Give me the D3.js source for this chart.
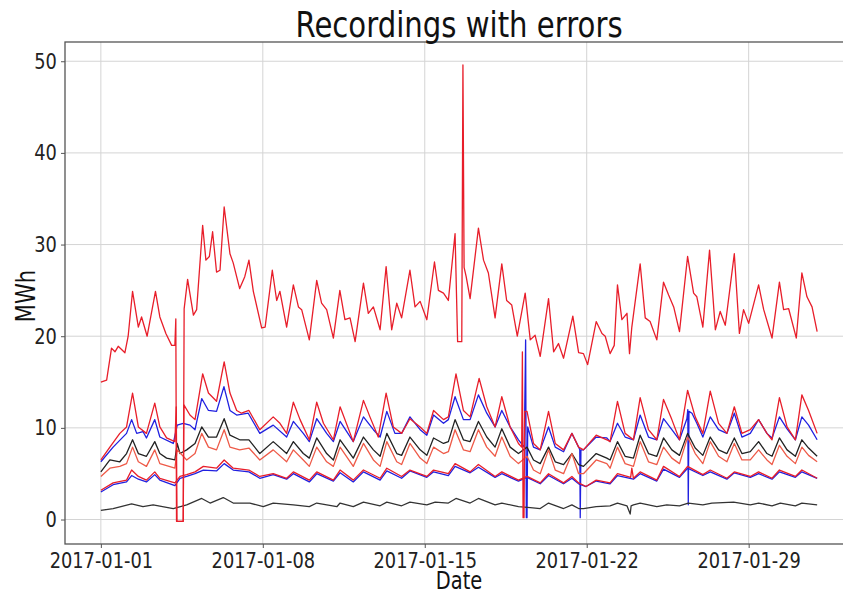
<!DOCTYPE html>
<html>
<head>
<meta charset="utf-8">
<script src="https://cdn.jsdelivr.net/npm/d3@7"></script>
<style>
  body { margin: 0; background: #fff; }
  svg { display: block; font-family: "DejaVu Sans", sans-serif; }
</style>
</head>
<body>
<svg id="chart" width="843" height="595"></svg>
<script>
// series are [day offset from 2017-01-01 00:00, MWh]
var topRed = [[0,15.0],[0.25,15.2],[0.46,18.7],[0.61,18.3],[0.75,18.9],[1.04,18.2],[1.18,20.0],[1.37,24.9],[1.62,21.0],[1.76,22.1],[2.0,20.0],[2.36,24.9],[2.55,22.1],[2.81,20.3],[3.06,19.0],[3.2,19.0],[3.24,21.9],[3.27,-0.2],[3.56,-0.2],[3.6,23.0],[3.75,26.2],[4.0,22.3],[4.14,22.9],[4.4,32.1],[4.54,28.3],[4.69,28.7],[4.83,31.4],[5.0,27.0],[5.15,27.2],[5.33,34.1],[5.58,29.0],[5.72,28.0],[6.0,25.2],[6.22,26.5],[6.4,28.3],[6.59,24.9],[6.95,20.9],[7.1,21.0],[7.41,27.2],[7.6,23.9],[7.74,24.9],[8.03,21.0],[8.32,25.6],[8.54,23.2],[8.68,22.9],[9.01,19.6],[9.33,26.1],[9.54,23.6],[9.76,22.9],[10.05,19.8],[10.33,25.0],[10.55,21.8],[10.77,22.0],[10.99,19.4],[11.35,25.8],[11.56,22.5],[11.78,23.2],[12.07,20.7],[12.33,27.6],[12.57,20.7],[12.79,23.6],[13.0,22.0],[13.36,27.2],[13.58,23.2],[13.8,23.8],[14.09,21.8],[14.42,28.1],[14.59,25.0],[14.81,24.7],[15.02,23.9],[15.31,31.2],[15.42,19.4],[15.6,19.4],[15.65,49.6],[15.7,27.5],[15.79,26.5],[15.96,24.1],[16.32,31.8],[16.54,28.3],[16.75,26.9],[17.04,22.0],[17.33,27.9],[17.54,23.9],[17.76,23.4],[18.0,20.0],[18.34,24.7],[18.56,19.6],[18.77,20.1],[18.99,17.8],[19.35,24.1],[19.57,18.3],[19.78,19.2],[20.0,17.6],[20.4,22.2],[20.65,18.2],[20.86,18.1],[21.04,16.9],[21.41,21.6],[21.66,20.3],[21.8,20.0],[22.01,18.1],[22.19,19.0],[22.33,25.6],[22.52,21.8],[22.74,22.5],[22.85,18.1],[22.95,21.0],[23.31,27.9],[23.53,22.0],[23.74,21.6],[24.03,19.6],[24.32,25.9],[24.54,24.5],[24.76,23.2],[25.01,20.5],[25.36,28.7],[25.62,24.7],[25.76,24.3],[26.02,21.0],[26.31,29.4],[26.56,20.7],[26.77,22.7],[26.99,21.2],[27.38,29.0],[27.6,20.3],[27.78,22.9],[28.0,21.4],[28.43,25.6],[28.65,22.9],[29.01,19.8],[29.33,25.9],[29.51,22.9],[29.73,23.0],[30.06,19.8],[30.3,26.9],[30.52,24.3],[30.74,23.2],[30.96,20.5]];

var redA = [[0,6.5],[0.39,7.9],[0.82,9.4],[1.11,10.1],[1.37,13.8],[1.62,10.1],[1.97,9.4],[2.33,12.7],[2.55,10.1],[2.84,8.9],[3.2,8.5],[3.26,12.3],[3.29,-0.2],[3.56,-0.2],[3.59,12.5],[3.85,11.4],[4.07,10.9],[4.4,15.9],[4.65,13.8],[5.0,12.9],[5.33,17.2],[5.58,13.8],[5.87,11.9],[6.08,11.6],[6.4,11.9],[6.87,9.8],[7.45,11.2],[7.74,10.5],[8.03,9.4],[8.32,12.8],[8.61,10.9],[9.01,8.7],[9.33,12.8],[9.62,10.5],[10.05,8.7],[10.34,12.3],[10.91,8.5],[11.35,13.0],[11.63,11.2],[11.99,9.0],[12.33,13.8],[12.64,10.1],[13.0,9.4],[13.36,11.0],[13.8,10.1],[14.09,9.4],[14.38,11.9],[14.81,10.9],[15.02,11.2],[15.35,15.9],[15.67,11.9],[15.96,11.2],[16.35,15.4],[16.68,12.3],[17.04,10.1],[17.33,13.4],[17.69,10.1],[18.05,8.3],[18.19,7.9],[18.22,18.3],[18.25,0.2],[18.29,0.2],[18.32,11.8],[18.42,11.8],[18.7,8.3],[18.99,7.6],[19.35,11.8],[19.64,8.3],[20.0,7.6],[20.36,9.4],[20.65,7.9],[20.86,7.6],[21.41,9.2],[21.87,8.7],[22.01,8.5],[22.33,12.9],[22.66,9.4],[23.02,8.7],[23.31,13.3],[23.67,9.8],[24.03,8.7],[24.32,13.1],[24.68,10.9],[25.01,8.7],[25.36,14.1],[25.69,11.2],[26.02,9.4],[26.34,14.0],[26.7,10.5],[27.06,9.4],[27.38,12.3],[27.71,9.4],[28.07,9.8],[28.43,10.9],[28.79,9.4],[29.01,8.7],[29.33,13.3],[29.66,10.1],[30.02,8.7],[30.3,13.6],[30.59,11.9],[30.96,9.4]];

var blueA = [[0,6.3],[0.53,7.9],[1.11,9.4],[1.33,10.9],[1.55,9.4],[1.82,9.6],[1.97,8.9],[2.33,10.9],[2.55,9.0],[3.13,8.3],[3.3,10.3],[3.56,10.5],[3.85,10.3],[4.07,9.8],[4.36,13.2],[4.65,11.9],[5.0,11.8],[5.32,14.5],[5.58,11.9],[5.87,11.4],[6.37,11.6],[6.87,9.4],[7.45,10.3],[8.03,9.0],[8.32,10.7],[8.75,9.4],[9.01,8.5],[9.33,11.0],[9.76,9.4],[10.05,8.5],[10.34,10.7],[10.91,8.5],[11.35,11.2],[11.78,9.8],[12.07,9.0],[12.36,11.8],[12.71,9.4],[13.0,9.4],[13.36,11.2],[13.8,9.8],[14.09,9.2],[14.38,11.4],[14.81,10.5],[15.02,10.9],[15.31,13.4],[15.67,10.9],[15.96,10.9],[16.32,13.6],[16.68,11.6],[17.04,10.1],[17.33,11.9],[17.69,10.1],[18.05,8.7],[18.3,7.9],[18.36,19.6],[18.39,0.2],[18.42,0.2],[18.45,10.1],[18.7,7.9],[18.99,7.6],[19.35,10.1],[19.64,7.9],[20.0,7.4],[20.36,9.4],[20.65,7.9],[20.7,7.6],[20.72,0.2],[20.75,7.6],[20.86,7.6],[21.41,9.0],[21.87,8.9],[22.01,8.5],[22.33,10.5],[22.66,9.0],[23.02,8.7],[23.31,11.4],[23.67,9.0],[24.03,8.7],[24.32,11.0],[24.68,9.8],[25.01,8.7],[25.33,11.0],[25.37,12.0],[25.39,1.6],[25.42,11.8],[25.55,11.6],[25.76,10.5],[26.02,9.0],[26.34,11.2],[26.7,9.8],[27.06,9.4],[27.38,11.6],[27.71,9.0],[28.07,9.4],[28.43,10.9],[28.79,9.4],[29.01,8.9],[29.33,11.2],[29.66,9.9],[30.02,8.7],[30.3,11.2],[30.59,10.3],[30.96,8.7]];

var blackA = [[0,5.2],[0.39,6.5],[0.82,6.3],[1.11,7.2],[1.37,8.7],[1.62,7.2],[1.97,6.9],[2.33,8.5],[2.55,7.2],[2.84,6.7],[3.2,6.5],[3.3,8.3],[3.42,7.2],[3.71,7.6],[4.07,8.3],[4.36,10.1],[4.65,9.0],[5.0,9.0],[5.33,11.0],[5.58,9.2],[6.0,8.7],[6.4,8.7],[6.87,7.2],[7.45,8.5],[8.03,7.2],[8.32,8.5],[8.75,7.2],[9.01,6.7],[9.33,8.9],[9.76,7.2],[10.05,6.5],[10.34,8.7],[10.91,6.7],[11.35,9.0],[11.78,7.6],[12.07,6.9],[12.36,9.4],[12.79,7.2],[13.0,7.0],[13.36,9.0],[13.8,7.6],[14.09,7.0],[14.38,8.9],[14.81,8.3],[15.02,8.5],[15.31,10.9],[15.67,8.7],[15.96,8.5],[16.32,10.7],[16.68,9.0],[17.04,7.9],[17.33,9.9],[17.69,7.9],[18.05,7.2],[18.42,7.9],[18.7,6.5],[18.99,6.1],[19.35,7.9],[19.64,6.3],[20.0,6.0],[20.36,7.2],[20.65,6.0],[20.86,5.8],[21.41,7.2],[21.87,6.7],[22.01,6.5],[22.33,8.5],[22.66,6.9],[23.02,6.7],[23.31,9.2],[23.67,7.2],[24.03,6.9],[24.32,8.9],[24.68,7.6],[25.01,7.0],[25.36,9.4],[25.69,7.8],[26.02,7.0],[26.34,9.0],[26.7,7.6],[27.06,7.2],[27.38,8.9],[27.71,7.2],[28.07,7.4],[28.43,8.5],[28.79,7.2],[29.01,6.9],[29.33,8.9],[29.66,7.6],[30.02,6.9],[30.3,8.7],[30.59,7.8],[30.96,6.9]];

var redB = [[0,4.7],[0.39,5.6],[0.82,5.8],[1.11,6.1],[1.37,7.9],[1.62,6.3],[1.97,5.8],[2.33,7.6],[2.55,6.1],[3.2,5.6],[3.3,7.6],[3.71,6.5],[4.07,7.2],[4.36,9.4],[4.65,7.9],[5.0,7.6],[5.33,9.8],[5.58,7.9],[6.0,7.6],[6.4,7.8],[6.87,6.5],[7.45,7.6],[8.03,6.3],[8.32,7.6],[8.75,6.5],[9.01,5.8],[9.33,7.9],[9.76,6.3],[10.05,5.8],[10.34,7.9],[10.91,5.8],[11.35,8.3],[11.78,6.5],[12.07,5.8],[12.36,8.5],[12.79,6.3],[13.0,6.0],[13.36,8.3],[13.8,6.7],[14.09,6.1],[14.38,7.9],[14.81,7.2],[15.02,7.4],[15.31,9.8],[15.67,7.6],[15.96,7.4],[16.32,9.8],[16.68,7.9],[17.04,6.9],[17.33,9.0],[17.69,6.9],[18.05,6.1],[18.42,6.9],[18.7,5.4],[18.99,5.0],[19.35,7.6],[19.64,5.4],[20.0,5.0],[20.36,7.2],[20.65,5.0],[20.86,5.0],[21.41,6.5],[21.87,6.1],[22.01,5.6],[22.33,7.9],[22.66,6.1],[23.02,5.8],[23.31,8.5],[23.67,6.3],[24.03,6.0],[24.32,7.9],[24.68,6.7],[25.01,6.1],[25.36,9.0],[25.69,7.2],[26.02,6.1],[26.34,8.5],[26.7,6.9],[27.06,6.3],[27.38,8.3],[27.71,6.5],[28.07,6.5],[28.43,7.6],[28.79,6.5],[29.01,6.0],[29.33,8.1],[29.66,6.9],[30.02,6.1],[30.3,7.9],[30.59,7.0],[30.96,6.3]];

var redC = [[0,3.2],[0.53,4.0],[1.11,4.3],[1.33,5.4],[1.62,4.7],[1.97,4.3],[2.33,5.2],[2.55,4.5],[3.2,4.0],[3.42,4.7],[3.71,4.9],[4.07,5.2],[4.43,5.8],[5.0,5.6],[5.33,6.5],[5.72,5.6],[6.4,5.4],[6.87,4.7],[7.45,5.0],[8.03,4.5],[8.32,5.2],[9.01,4.3],[9.33,5.2],[10.05,4.3],[10.34,5.4],[10.91,4.3],[11.35,5.4],[12.07,4.5],[12.36,5.6],[13.0,4.7],[13.36,5.4],[14.09,4.7],[14.38,5.4],[15.02,5.0],[15.31,6.1],[15.96,5.2],[16.32,6.0],[17.04,4.7],[17.33,5.2],[18.05,4.3],[18.42,4.7],[18.99,4.0],[19.35,5.0],[20.0,4.0],[20.36,4.7],[20.65,4.0],[20.97,3.6],[21.41,4.3],[22.01,4.0],[22.33,5.0],[22.9,4.6],[22.95,5.6],[23.02,4.5],[23.31,5.2],[24.03,4.3],[24.32,5.8],[25.01,4.7],[25.36,5.8],[26.02,4.9],[26.34,5.4],[27.06,4.5],[27.38,5.2],[28.07,4.7],[28.43,5.2],[29.01,4.5],[29.33,5.4],[30.02,4.7],[30.3,5.4],[30.96,4.5]];

var blueB = [[0,3.0],[0.53,3.8],[1.11,4.1],[1.33,4.8],[1.62,4.4],[1.97,4.1],[2.33,4.9],[2.55,4.3],[3.2,3.7],[3.42,4.5],[3.71,4.7],[4.07,5.0],[4.43,5.4],[5.0,5.3],[5.33,6.1],[5.72,5.4],[6.4,5.2],[6.87,4.5],[7.45,4.9],[8.03,4.4],[8.32,5.0],[9.01,4.1],[9.33,5.0],[10.05,4.2],[10.34,5.1],[10.91,4.1],[11.35,5.2],[12.07,4.3],[12.36,5.3],[13.0,4.5],[13.36,5.3],[14.09,4.6],[14.38,5.2],[15.02,4.8],[15.31,5.8],[15.96,5.1],[16.32,5.7],[17.04,4.6],[17.33,5.0],[18.05,4.2],[18.42,4.6],[18.99,3.9],[19.35,4.8],[20.0,3.9],[20.36,4.5],[20.65,3.9],[20.97,3.6],[21.41,4.2],[22.01,3.9],[22.33,4.8],[23.02,4.4],[23.31,5.0],[24.03,4.2],[24.32,5.5],[25.01,4.6],[25.36,5.6],[26.02,4.8],[26.34,5.2],[27.06,4.4],[27.38,5.1],[28.07,4.6],[28.43,5.0],[29.01,4.4],[29.33,5.2],[30.02,4.6],[30.3,5.2],[30.96,4.5]];

var blackB = [[0,1.0],[0.53,1.2],[1.33,1.7],[1.82,1.4],[2.26,1.6],[3.13,1.2],[3.71,1.6],[4.36,2.3],[4.72,1.8],[5.29,2.4],[5.72,1.8],[6.44,1.8],[7.02,1.4],[7.45,1.8],[8.32,1.6],[9.01,1.4],[9.33,1.8],[10.2,1.4],[10.34,1.8],[10.91,1.4],[11.35,1.9],[12.07,1.5],[12.36,1.9],[13.0,1.5],[13.36,1.9],[14.09,1.6],[14.45,1.9],[15.02,1.8],[15.35,2.3],[15.96,1.8],[16.32,2.3],[17.04,1.6],[17.33,1.8],[18.05,1.4],[18.56,1.3],[18.99,1.2],[19.35,1.8],[20.0,1.2],[20.36,1.6],[20.65,1.2],[20.86,1.2],[21.41,1.4],[22.01,1.5],[22.33,1.8],[22.74,1.5],[22.88,0.6],[22.92,1.5],[23.02,1.6],[23.31,1.8],[24.03,1.4],[24.46,1.6],[25.01,1.5],[25.39,1.8],[26.02,1.6],[26.41,1.8],[27.35,1.9],[28.07,1.6],[28.43,1.8],[29.01,1.5],[29.37,1.8],[30.02,1.5],[30.3,1.8],[30.96,1.6]];

var yTicks = [0, 10, 20, 30, 40, 50];
var xTickDays = [1, 8, 15, 22, 29];

var svg = d3.select("#chart");
var mLeft = 65, mRight = 853, mTop = 42, mBottom = 544;
var t0 = Date.UTC(2017, 0, 1);
var DAY = 864e5;
var squeeze = 0.81; // glyphs in the picture are narrow

var x = d3.scaleUtc()
    .domain([new Date(t0 - 1.55 * DAY), new Date(t0 + 32.51 * DAY)])
    .range([mLeft, mRight]);
var y = d3.scaleLinear().domain([-2.67, 52.1]).range([mBottom, mTop]);

svg.append("defs").append("clipPath").attr("id", "plot")
  .append("rect").attr("x", mLeft).attr("y", mTop)
  .attr("width", mRight - mLeft).attr("height", mBottom - mTop);

var tickDates = xTickDays.map(function(d){ return new Date(Date.UTC(2017, 0, d)); });

// grid
svg.append("g").selectAll("line").data(tickDates).enter().append("line")
  .attr("x1", function(d){ return x(d); }).attr("x2", function(d){ return x(d); })
  .attr("y1", mTop).attr("y2", mBottom)
  .attr("stroke", "#d4d4d4").attr("stroke-width", 1);
svg.append("g").selectAll("line").data(yTicks).enter().append("line")
  .attr("y1", function(d){ return y(d); }).attr("y2", function(d){ return y(d); })
  .attr("x1", mLeft).attr("x2", mRight)
  .attr("stroke", "#d4d4d4").attr("stroke-width", 1);

// lines
var line = d3.line()
  .x(function(d){ return x(new Date(t0 + d[0] * DAY)); })
  .y(function(d){ return y(d[1]); });

var series = [
  {data: blueB, color: "#2020e0"},
  {data: blueA, color: "#2020e0"},
  {data: blackB, color: "#333"},
  {data: blackA, color: "#222"},
  {data: redB, color: "#ee5a48"},
  {data: redC, color: "#e81e2a"},
  {data: redA, color: "#e81e2a"},
  {data: topRed, color: "#e81e2a"}
];

svg.append("g").attr("clip-path", "url(#plot)")
  .selectAll("path").data(series).enter().append("path")
  .attr("d", function(s){ return line(s.data); })
  .attr("fill", "none")
  .attr("stroke", function(s){ return s.color; })
  .attr("stroke-width", 1.3)
  .attr("stroke-linejoin", "round");

// axes
var xAxis = svg.append("g").attr("transform", "translate(0," + mBottom + ")")
  .call(d3.axisBottom(x).tickValues(tickDates).tickFormat(d3.utcFormat("%Y-%m-%d")).tickSize(4).tickPadding(4));
var yAxis = svg.append("g").attr("transform", "translate(" + mLeft + ",0)")
  .call(d3.axisLeft(y).tickValues(yTicks).tickSize(4).tickPadding(6));

[xAxis, yAxis].forEach(function(a){
  a.select(".domain").remove();
  a.selectAll(".tick line").attr("stroke", "#555");
  a.selectAll("text").attr("fill", "#222").style("font-size", "22px")
    .style("font-family", "DejaVu Sans, sans-serif")
    .attr("transform", "scale(" + squeeze + ",1)");
});

// frame
svg.append("rect").attr("x", mLeft).attr("y", mTop)
  .attr("width", mRight - mLeft).attr("height", mBottom - mTop)
  .attr("fill", "none").attr("stroke", "#555").attr("stroke-width", 1.3);

function label(txt, tx, ty, size, rot) {
  svg.append("text")
    .attr("transform", "translate(" + tx + "," + ty + ")" + (rot ? " rotate(-90)" : "") + " scale(" + squeeze + ",1)")
    .attr("text-anchor", "middle").style("font-size", size + "px").attr("fill", "#111")
    .text(txt);
}
label("Recordings with errors", (mLeft + mRight) / 2, 37, 36, false);
label("Date", (mLeft + mRight) / 2, 589, 24, false);
label("MWh", 35, 296, 26, true);
</script>
</body>
</html>
